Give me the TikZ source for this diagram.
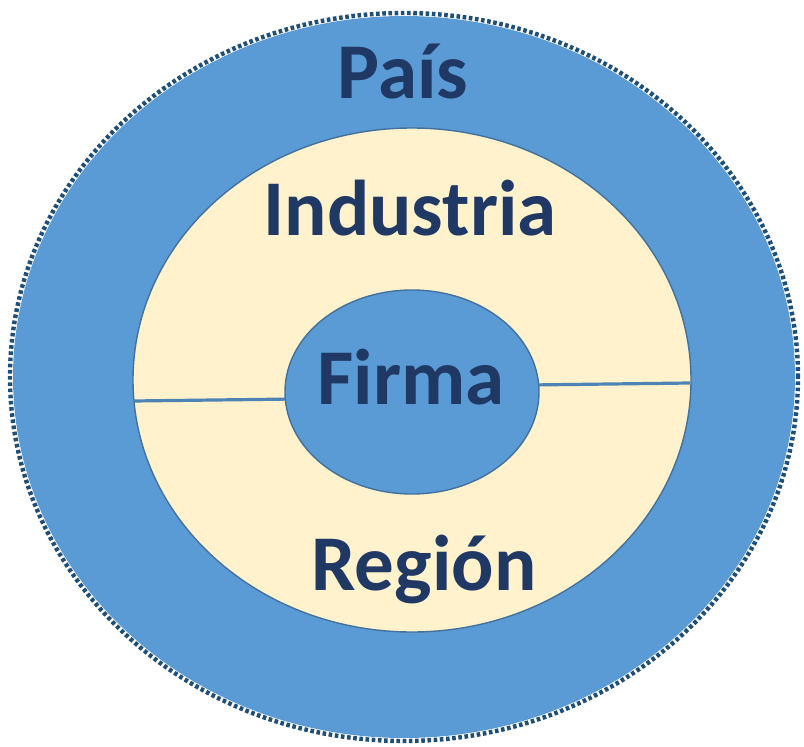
\documentclass[tikz,border=0pt]{standalone}
\usepackage{fontspec}
\setmainfont{Carlito}
\definecolor{ringblue}{HTML}{5B9BD5}
\definecolor{cream}{HTML}{FFF2CC}
\definecolor{edgeblue}{HTML}{41719C}
\definecolor{dotblue}{HTML}{1F4E79}
\definecolor{labelnavy}{HTML}{1F3864}
\begin{document}
\begin{tikzpicture}[x=1pt,y=-1pt,
  ringlabel/.style={anchor=base, inner sep=0pt, text=labelnavy,
    font=\fontsize{79}{79}\selectfont\bfseries},
  divider/.style={draw=ringblue!85!black, line width=3.2pt}]
  \useasboundingbox (0,0) rectangle (804,747);
  % outer ring, fill first and then the dotted rim just outside it
  \fill[ringblue] (404,377) ellipse [x radius=391pt, y radius=361pt];
  \draw[draw=dotblue, line width=4.4pt, dash pattern=on 3.6pt off 2.6pt]
    (404,377) ellipse [x radius=394pt, y radius=364pt];
  % middle ring
  \draw[fill=cream, draw=edgeblue, line width=1.4pt]
    (412,380) ellipse [x radius=279pt, y radius=252pt];
  % dividing line across the middle ring
  \coordinate (dl1) at (133,401);
  \coordinate (dl2) at (295,399);
  \coordinate (dr1) at (530,385);
  \coordinate (dr2) at (690,383);
  \draw[divider] (dl1) -- (dl2);
  \draw[divider] (dr1) -- (dr2);
  % inner core
  \draw[fill=ringblue, draw=edgeblue, line width=1.4pt]
    (412,392) ellipse [x radius=127pt, y radius=102pt];
  % labels
  \node[ringlabel] (pais) at (403,98) {País};
  \node[ringlabel] (industria) at (410,235) {Industria};
  \node[ringlabel] (firma) at (411,404) {Firma};
  \node[ringlabel] (region) at (424,590) {Región};
\end{tikzpicture}
\end{document}
